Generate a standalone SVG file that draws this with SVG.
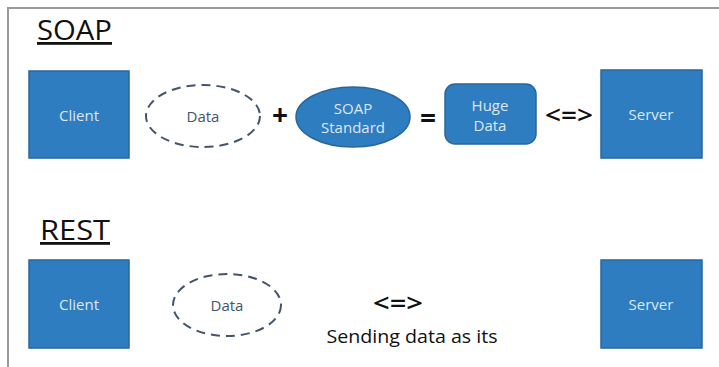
<svg xmlns="http://www.w3.org/2000/svg" width="719" height="367" viewBox="0 0 719 367">
<style>
.box{fill:#2E7DC0;stroke:#2A6699;stroke-width:1.5}
.lbl{font-family:"Open Sans","Liberation Sans",sans-serif;font-size:15px;fill:#DCE7F2;text-anchor:middle;dominant-baseline:central}
.dlbl{font-family:"Open Sans","Liberation Sans",sans-serif;font-size:15px;fill:#44546A;text-anchor:middle;dominant-baseline:central}
.dash{fill:#fff;stroke:#44546A;stroke-width:2;stroke-dasharray:9 6}
.title{font-family:"Open Sans","Liberation Sans",sans-serif;font-size:28px;fill:#111;text-decoration:underline}
.op{font-family:"Open Sans","Liberation Sans",sans-serif;fill:#111;text-anchor:middle;dominant-baseline:central}
</style>
<rect width="719" height="367" fill="#fff"/>
<path d="M8 367 V8 H719" fill="none" stroke="#9a9a9a" stroke-width="2"/>
<text class="title" x="37" y="40" textLength="75" lengthAdjust="spacingAndGlyphs">SOAP</text>
<text class="title" x="40" y="240" textLength="70" lengthAdjust="spacingAndGlyphs">REST</text>
<g id="soap-client"><rect class="box" x="29" y="71" width="100" height="87"/><text class="lbl" x="79" y="115">Client</text></g>
<g id="soap-data"><ellipse class="dash" cx="203" cy="116" rx="57" ry="31"/><text class="dlbl" x="203" y="116">Data</text></g>
<g id="soap-standard"><ellipse class="box" cx="353" cy="117" rx="57" ry="30"/><text class="lbl" x="353" y="108">SOAP</text><text class="lbl" x="353" y="127">Standard</text></g>
<g id="huge-data"><rect class="box" x="445" y="84" width="91" height="60" rx="10"/><text class="lbl" x="490" y="105">Huge</text><text class="lbl" x="490" y="125">Data</text></g>
<g id="soap-server"><rect class="box" x="601" y="70" width="101" height="88"/><text class="lbl" x="651" y="114">Server</text></g>
<g id="rest-client"><rect class="box" x="29" y="260" width="100" height="88"/><text class="lbl" x="79" y="304">Client</text></g>
<g id="rest-data"><ellipse class="dash" cx="227" cy="305" rx="54" ry="31"/><text class="dlbl" x="227" y="305">Data</text></g>
<g id="rest-server"><rect class="box" x="601" y="260" width="101" height="88"/><text class="lbl" x="651" y="304">Server</text></g>
<g id="connectors">
<text class="op" x="280" y="114" font-size="28" font-weight="bold">+</text>
<text class="op" x="428" y="117" font-size="28" font-weight="bold">=</text>
<text class="op" x="569" y="114" font-size="26" font-weight="600" textLength="48" lengthAdjust="spacingAndGlyphs">&lt;=&gt;</text>
<text class="op" x="398" y="302" font-size="26" font-weight="600" textLength="50" lengthAdjust="spacingAndGlyphs">&lt;=&gt;</text>
<text class="op" x="412" y="336" font-size="18" textLength="171" lengthAdjust="spacingAndGlyphs">Sending data as its</text>
</g>
</svg>
